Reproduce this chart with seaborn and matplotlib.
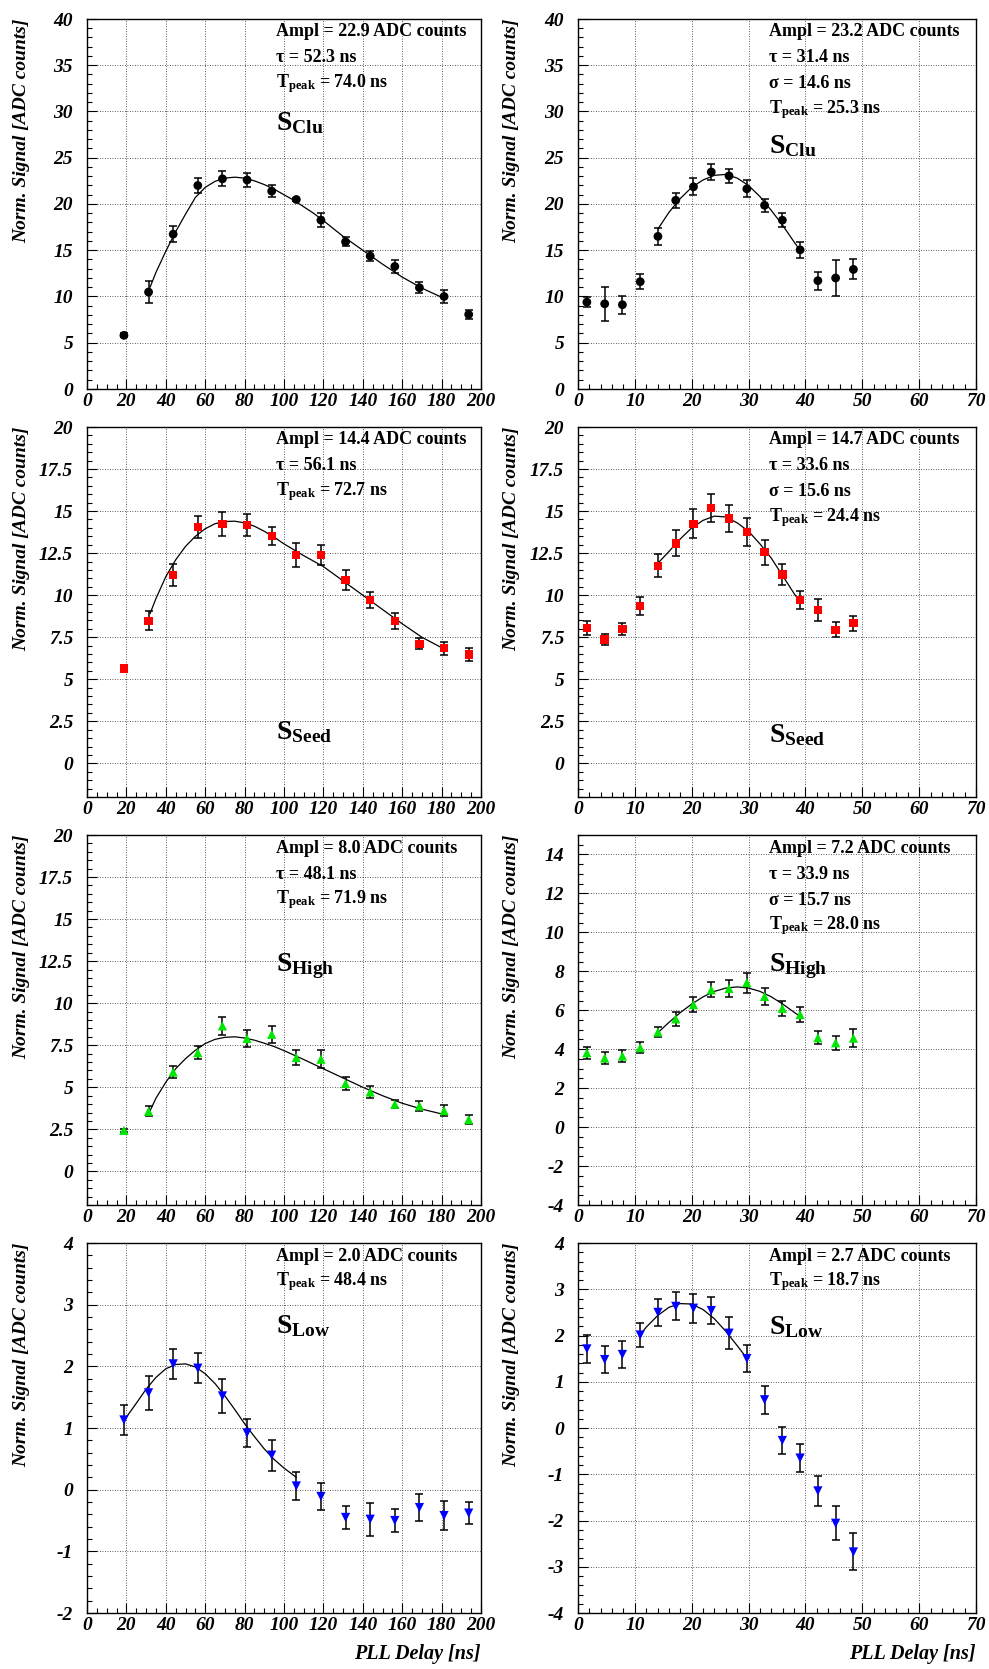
import numpy as np
import pandas as pd
import matplotlib
matplotlib.use("Agg")
import matplotlib.pyplot as plt
import seaborn as sns
from matplotlib.ticker import MultipleLocator, FormatStrFormatter

# ---------------- data ----------------
delay_left = [18.75, 31.25, 43.75, 56.25, 68.75, 81.25, 93.75, 106.25, 118.75,
              131.25, 143.75, 156.25, 168.75, 181.25, 193.75]
delay_right = [1.56, 4.69, 7.81, 10.94, 14.06, 17.19, 20.31, 23.44, 26.56,
               29.69, 32.81, 35.94, 39.06, 42.19, 45.31, 48.44]

# S_Clu
clu_left = [5.80, 10.48, 16.74, 22.0, 22.72, 22.6, 21.39, 20.49, 18.25, 15.91,
            14.37, 13.25, 10.95, 10.0, 8.06]
clu_left_err = [0.2, 1.17, 0.85, 0.8, 0.8, 0.8, 0.68, 0.2, 0.77, 0.5, 0.5, 0.68,
                0.6, 0.72, 0.45]
clu_right = [9.39, 9.21, 9.11, 11.6, 16.5, 20.4, 21.86, 23.46, 23.04, 21.64,
             19.86, 18.25, 15.04, 11.71, 12.0, 12.93]
clu_right_err = [0.57, 1.87, 0.98, 0.78, 0.93, 0.8, 0.93, 0.84, 0.79, 0.91, 0.7,
                 0.73, 0.89, 0.96, 1.96, 1.07]

# S_Seed
seed_left = [5.64, 8.48, 11.2, 14.04, 14.22, 14.18, 13.52, 12.37, 12.37, 10.92,
             9.71, 8.46, 7.11, 6.85, 6.47]
seed_left_err = [0.15, 0.58, 0.65, 0.66, 0.7, 0.67, 0.53, 0.72, 0.6, 0.59, 0.48,
                 0.46, 0.32, 0.39, 0.37]
seed_right = [8.06, 7.37, 7.98, 9.35, 11.75, 13.08, 14.24, 15.2, 14.55, 13.75,
              12.55, 11.22, 9.71, 9.12, 7.94, 8.33]
seed_right_err = [0.41, 0.31, 0.36, 0.55, 0.68, 0.78, 0.86, 0.83, 0.8, 0.85,
                  0.74, 0.64, 0.56, 0.64, 0.44, 0.46]

# S_High
high_left = [2.44, 3.57, 5.91, 7.06, 8.65, 7.9, 8.15, 6.77, 6.67, 5.22, 4.72,
             3.99, 3.89, 3.61, 3.08]
high_left_err = [0.1, 0.3, 0.37, 0.4, 0.55, 0.53, 0.5, 0.45, 0.53, 0.38, 0.35,
                 0.25, 0.32, 0.34, 0.28]
high_right = [3.82, 3.55, 3.65, 4.08, 4.88, 5.56, 6.29, 7.05, 7.12, 7.42, 6.71,
              6.1, 5.78, 4.59, 4.33, 4.57]
high_right_err = [0.31, 0.29, 0.29, 0.29, 0.27, 0.36, 0.4, 0.39, 0.44, 0.51,
                  0.42, 0.37, 0.4, 0.34, 0.36, 0.45]

# S_Low
low_left = [1.13, 1.57, 2.04, 1.97, 1.52, 0.92, 0.56, 0.06, -0.11, -0.45,
            -0.48, -0.5, -0.29, -0.42, -0.38]
low_left_err = [0.24, 0.28, 0.24, 0.24, 0.27, 0.23, 0.25, 0.22, 0.22, 0.18,
                0.27, 0.18, 0.22, 0.24, 0.18]
low_right = [1.71, 1.48, 1.59, 2.01, 2.5, 2.63, 2.59, 2.54, 2.05, 1.5, 0.61,
             -0.27, -0.65, -1.36, -2.06, -2.68]
low_right_err = [0.3, 0.3, 0.29, 0.25, 0.3, 0.3, 0.31, 0.3, 0.35, 0.29, 0.3,
                 0.3, 0.3, 0.32, 0.37, 0.4]

# fitted curves
fit_clu_left_x = [32, 35, 40, 45, 50, 55, 60, 65, 70, 75, 80, 85, 90, 95, 100,
                  105, 110, 115, 120, 130, 140, 150, 160, 170, 181.25]
fit_clu_left_y = [11.0, 12.6, 14.9, 17.0, 18.9, 20.7, 21.8, 22.45, 22.8, 22.9,
                  22.8, 22.5, 22.1, 21.6, 21.0, 20.4, 19.7, 19.0, 18.2, 16.5,
                  15.0, 13.5, 12.1, 10.9, 9.8]
fit_seed_left_x = [32, 35, 40, 45, 50, 55, 60, 65, 70, 75, 80, 85, 90, 95, 100,
                   110, 120, 130, 140, 150, 160, 170, 181.25]
fit_seed_left_y = [8.9, 9.8, 11.1, 12.1, 12.9, 13.5, 13.95, 14.25, 14.38, 14.4,
                   14.3, 14.1, 13.8, 13.45, 13.05, 12.35, 11.7, 10.85, 10.0,
                   9.15, 8.3, 7.5, 6.8]
fit_high_left_x = [32, 35, 40, 45, 50, 55, 60, 65, 70, 75, 80, 85, 90, 95, 100,
                   110, 120, 130, 140, 150, 160, 170, 181.25]
fit_high_left_y = [3.6, 4.35, 5.3, 6.1, 6.7, 7.2, 7.6, 7.85, 7.97, 8.0, 7.93,
                   7.8, 7.62, 7.42, 7.18, 6.65, 6.1, 5.55, 5.0, 4.5, 4.05, 3.7,
                   3.38]
fit_low_left_x = [18.75, 25, 30, 35, 40, 45, 50, 55, 60, 65, 70, 75, 80, 85, 90,
                  95, 100, 106.25]
fit_low_left_y = [1.12, 1.40, 1.63, 1.82, 1.96, 2.03, 2.04, 1.99, 1.88, 1.72,
                  1.52, 1.30, 1.07, 0.86, 0.66, 0.49, 0.35, 0.2]

fit_right_x = [14.06, 16, 18, 20, 22, 24, 26, 28, 30, 32, 34, 36, 38, 39.06]
fit_clu_right_y = [17.3, 19.1, 20.6, 21.8, 22.6, 23.1, 23.2, 22.8, 22.0, 20.8,
                   19.3, 17.7, 15.9, 15.0]
fit_seed_right_y = [11.9, 12.6, 13.35, 14.0, 14.45, 14.7, 14.65, 14.3, 13.8,
                    13.05, 12.2, 11.15, 10.1, 9.6]
fit_high_right_y = [4.85, 5.38, 5.88, 6.32, 6.69, 6.97, 7.14, 7.2, 7.14, 6.97,
                    6.69, 6.32, 5.9, 5.68]
fit_low_right_x = [10.94, 12, 14, 16, 18, 20, 22, 24, 26, 28, 29.69]
fit_low_right_y = [2.02, 2.18, 2.43, 2.61, 2.69, 2.68, 2.56, 2.36, 2.09, 1.78,
                   1.51]

# annotation texts
txt_clu_left = ["Ampl = 22.9 ADC counts", "\u03c4 = 52.3 ns",
                r"$\mathbf{T}_{\mathbf{peak}}$ = 74.0 ns"]
txt_clu_right = ["Ampl = 23.2 ADC counts", "\u03c4 = 31.4 ns", "\u03c3 = 14.6 ns",
                 r"$\mathbf{T}_{\mathbf{peak}}$ = 25.3 ns"]
txt_seed_left = ["Ampl = 14.4 ADC counts", "\u03c4 = 56.1 ns",
                 r"$\mathbf{T}_{\mathbf{peak}}$ = 72.7 ns"]
txt_seed_right = ["Ampl = 14.7 ADC counts", "\u03c4 = 33.6 ns", "\u03c3 = 15.6 ns",
                  r"$\mathbf{T}_{\mathbf{peak}}$ = 24.4 ns"]
txt_high_left = ["Ampl = 8.0 ADC counts", "\u03c4 = 48.1 ns",
                 r"$\mathbf{T}_{\mathbf{peak}}$ = 71.9 ns"]
txt_high_right = ["Ampl = 7.2 ADC counts", "\u03c4 = 33.9 ns", "\u03c3 = 15.7 ns",
                  r"$\mathbf{T}_{\mathbf{peak}}$ = 28.0 ns"]
txt_low_left = ["Ampl = 2.0 ADC counts", r"$\mathbf{T}_{\mathbf{peak}}$ = 48.4 ns"]
txt_low_right = ["Ampl = 2.7 ADC counts", r"$\mathbf{T}_{\mathbf{peak}}$ = 18.7 ns"]

signal_names = [r"$\mathbf{S}_{\mathbf{Clu}}$", r"$\mathbf{S}_{\mathbf{Seed}}$",
                r"$\mathbf{S}_{\mathbf{High}}$", r"$\mathbf{S}_{\mathbf{Low}}$"]

# ---------------- style ----------------
sns.set_theme(style="white")
plt.rcParams["font.family"] = ["Liberation Serif", "DejaVu Serif"]
plt.rcParams["font.style"] = "italic"
plt.rcParams["font.weight"] = "bold"
plt.rcParams["axes.labelweight"] = "bold"
plt.rcParams["axes.unicode_minus"] = False
plt.rcParams["mathtext.fontset"] = "custom"
plt.rcParams["mathtext.rm"] = "Liberation Serif:style=normal:weight=bold"
plt.rcParams["mathtext.bf"] = "Liberation Serif:style=normal:weight=bold"
plt.rcParams["mathtext.it"] = "Liberation Serif:style=normal:weight=bold"
plt.rcParams["mathtext.default"] = "bf"

fig = plt.figure(figsize=(9.89, 16.69), dpi=100)

col_left = [87 / 989, 578 / 989]
col_width = [394 / 989, 398 / 989]
row_bottom = [1280 / 1669, 872 / 1669, 464 / 1669, 56 / 1669]
row_height = 370 / 1669

panels = [
    (0, 0, delay_left, clu_left, clu_left_err, fit_clu_left_x, fit_clu_left_y,
     "black", "o", 40, (0, 40), 5, 1, txt_clu_left, 104),
    (0, 1, delay_right, clu_right, clu_right_err, fit_right_x, fit_clu_right_y,
     "black", "o", 40, (0, 40), 5, 1, txt_clu_right, 127),
    (1, 0, delay_left, seed_left, seed_left_err, fit_seed_left_x, fit_seed_left_y,
     "#ff0000", "s", 36, (-2, 20), 2.5, 0.5, txt_seed_left, 305),
    (1, 1, delay_right, seed_right, seed_right_err, fit_right_x, fit_seed_right_y,
     "#ff0000", "s", 36, (-2, 20), 2.5, 0.5, txt_seed_right, 308),
    (2, 0, delay_left, high_left, high_left_err, fit_high_left_x, fit_high_left_y,
     "#00e600", "^", 44, (-2, 20), 2.5, 0.5, txt_high_left, 131),
    (2, 1, delay_right, high_right, high_right_err, fit_right_x, fit_high_right_y,
     "#00e600", "^", 44, (-4, 15), 2, 0.5, txt_high_right, 131),
    (3, 0, delay_left, low_left, low_left_err, fit_low_left_x, fit_low_left_y,
     "#0000ff", "v", 44, (-2, 4), 1, 0.2, txt_low_left, 83),
    (3, 1, delay_right, low_right, low_right_err, fit_low_right_x, fit_low_right_y,
     "#0000ff", "v", 44, (-4, 4), 1, 0.2, txt_low_right, 84),
]

for (r, c, xs, ys, es, fx, fy, color, marker, size, ylim, major, minor,
     texts, name_off) in panels:
    ax = fig.add_axes([col_left[c], row_bottom[r], col_width[c], row_height])
    df = pd.DataFrame({"delay": xs, "signal": ys, "err": es})
    fit_df = pd.DataFrame({"delay": fx, "signal": fy})

    ax.errorbar(df["delay"], df["signal"], yerr=df["err"], fmt="none",
                ecolor="black", elinewidth=1.1, capsize=2.6, capthick=1.1,
                zorder=2)
    sns.lineplot(data=fit_df, x="delay", y="signal", ax=ax, color="black",
                 linewidth=0.9, zorder=3)
    sns.scatterplot(data=df, x="delay", y="signal", ax=ax, color=color,
                    marker=marker, s=size, edgecolor="none", linewidth=0,
                    zorder=4)

    if c == 0:
        ax.set_xlim(0, 200)
        ax.xaxis.set_major_locator(MultipleLocator(20))
        ax.xaxis.set_minor_locator(MultipleLocator(5))
    else:
        ax.set_xlim(0, 70)
        ax.xaxis.set_major_locator(MultipleLocator(10))
        ax.xaxis.set_minor_locator(MultipleLocator(2))
    ax.set_ylim(*ylim)
    ax.yaxis.set_major_locator(MultipleLocator(major))
    ax.yaxis.set_minor_locator(MultipleLocator(minor))
    ax.yaxis.set_major_formatter(FormatStrFormatter("%g"))
    ax.xaxis.set_major_formatter(FormatStrFormatter("%g"))

    ax.tick_params(axis="both", which="major", direction="in", length=7,
                   width=0.8, colors="black", labelsize=14,
                   top=False, right=False, bottom=True, left=True)
    ax.tick_params(axis="both", which="minor", direction="in", length=3.5,
                   width=0.8, colors="black", top=False, right=False,
                   bottom=True, left=True)
    ax.tick_params(axis="x", which="major", pad=3)
    ax.tick_params(axis="y", which="major", pad=10)

    ax.grid(True, which="major", linestyle=(0, (1, 2)), color="black",
            linewidth=0.6, alpha=0.85)
    ax.set_axisbelow(True)
    for sp in ax.spines.values():
        sp.set_color("black")
        sp.set_linewidth(1.0)
        sp.set_visible(True)

    ax.set_ylabel("Norm. Signal [ADC counts]", loc="top", fontsize=14,
                  fontweight="bold", fontstyle="italic", color="black")
    ax.yaxis.set_label_coords(-0.145, 1.0)
    if r == 3:
        ax.set_xlabel("PLL Delay [ns]", loc="right", fontsize=14.5,
                      fontweight="bold", fontstyle="italic", color="black")
        ax.xaxis.set_label_coords(1.0, -0.085)
    else:
        ax.set_xlabel("")

    for i, t in enumerate(texts):
        off = 13 + 26 * i
        ax.text(0.48, 1 - off / 370, t, transform=ax.transAxes, ha="left",
                va="center", fontsize=13, fontweight="bold", fontstyle="normal",
                color="black")
    ax.text(0.48, 1 - name_off / 370, signal_names[r], transform=ax.transAxes,
            ha="left", va="center", fontsize=20, fontweight="bold",
            fontstyle="normal", color="black")

fig.savefig("out.png", dpi=100)
